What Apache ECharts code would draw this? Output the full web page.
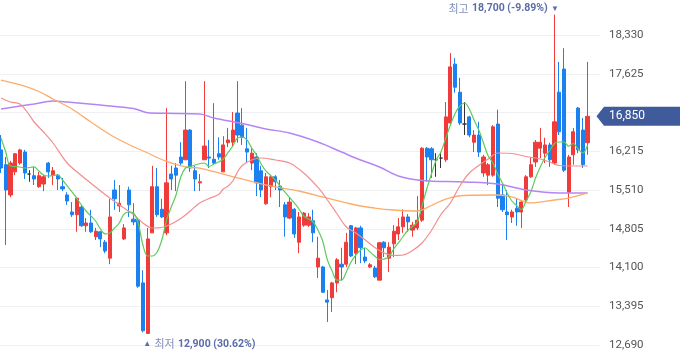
<!DOCTYPE html>
<html><head><meta charset="utf-8">
<script src="https://cdn.jsdelivr.net/npm/echarts@6/dist/echarts.min.js"></script>
<style>html,body{margin:0;padding:0;background:#fff;overflow:hidden;width:680px;height:358px;position:relative}
#c{position:absolute;left:-2px;top:-4px;width:682px;height:388px}</style>
</head><body><div id="c"></div>
<script>
// candle values (open, close, low, high), one entry per trading day
var opens  = [16240,15970,15420,15840,16000,16200,15800,15770,15570,15620,16000,15780,15780,15570,15420,15110,15060,15200,14860,14910,14660,14750,14560,14270,15510,15220,14620,15510,14980,14960,13820,12900,14730,15570,15160,14730,15800,15910,16110,16060,16600,15860,15640,16060,16110,16070,16170,15840,16370,16380,16910,16690,16260,16000,16110,15860,15260,15570,15750,15580,15240,15000,15160,14560,14870,14870,14950,14110,14110,13510,13550,13820,14160,14160,14860,14360,14820,14290,14110,14090,13870,14560,14270,14530,14710,14840,15020,14780,14820,14960,16270,16260,16060,16090,16060,16730,17800,17290,16710,16840,16380,16510,15820,15780,15780,16710,15420,15110,15020,15180,15110,15330,15750,16020,16270,16180,16330,16000,17290,17710,15470,16150,17000,16600,16370];
var closes = [15910,15510,16000,16170,16240,15820,15800,15710,15770,15750,15840,15860,15710,15530,15310,15060,15360,14860,14910,14750,14760,14620,14400,15020,15350,15270,14820,15240,14930,13760,12950,14620,15570,15060,15020,15640,15710,15780,16000,16600,15910,15710,15660,16310,16090,16000,16110,16330,16420,16600,16510,16470,16200,16180,15640,15510,15750,15750,15660,15510,15020,15290,14710,15020,15090,15020,14730,14270,13650,13470,13820,14240,14110,14560,14310,14820,14460,14220,14150,13930,14550,14460,14470,14760,14840,15020,14930,14870,14960,16270,16110,16060,16060,16090,16840,17750,17380,16730,16710,16510,16510,16200,16110,15970,16660,15360,15150,15060,15110,15110,15290,15750,15970,16380,16380,16330,16060,16750,16570,15870,16110,16570,16240,15970,16850];
var lows   = [15820,14510,15380,15780,15970,15710,15660,15600,15550,15490,15730,15600,15510,15490,15240,15020,14750,14840,14750,14730,14600,14470,14360,14160,15150,15110,14600,15020,14870,13730,12920,12900,14730,15020,15000,14690,15510,15490,15950,16060,15840,15490,15490,16060,15910,15970,16060,15840,16290,16290,16370,16330,16000,15870,15400,15380,15240,15380,15510,15200,14660,14980,14640,14360,14840,14840,14560,13910,13640,13110,13290,13650,13870,14110,14290,14160,14180,14180,14090,13910,13870,14290,14020,14290,14600,14730,14750,14660,14780,14930,15660,15730,15750,15910,16020,16690,17280,16690,16510,16470,16200,16110,15750,15600,15750,15200,15110,14600,14910,14860,14820,15290,15730,15930,16090,16000,15930,15970,16510,15840,15200,15970,16180,15910,16150];
var highs  = [16510,16110,16040,16180,16260,16240,15870,15930,15840,15780,16020,15930,15800,15730,15470,15290,15380,15240,15000,15150,14820,14760,14600,15350,15690,15600,14890,15570,15270,15000,14050,14820,15950,15910,15350,17000,15950,16000,16380,17490,16620,15950,15800,17490,16420,17090,16470,16490,16640,16930,17490,17000,16640,16270,16180,15950,15820,15780,15780,15690,15290,15380,15180,15110,15110,15090,15150,14660,14130,13690,13840,14270,14460,14730,14870,14840,14860,14460,14180,14130,14560,14580,14560,14870,15000,15160,15070,14930,15400,16290,16290,16290,16180,16200,17110,18000,17910,17550,17110,16860,16600,16750,16150,16000,16690,16970,15600,15510,15150,15360,15330,15780,16110,16420,16640,16460,16370,18700,17840,18090,16150,16640,17020,16820,17840];
// moving averages: [day index, price]
var ma5 = [[0,16456],[1,16201],[2,15947],[4,15929],[5,15910],[7,15929],[8,15856],[9,15783],[10,15765],[12,15783],[13,15692],[14,15583],[15,15474],[16,15364],[17,15237],[18,15128],[19,15037],[20,14946],[21,14801],[22,14710],[23,14728],[24,14819],[25,14910],[26,15073],[27,15110],[28,15092],[29,14910],[30,14510],[31,14309],[32,14309],[33,14382],[34,14600],[35,14964],[36,15201],[37,15419],[38,15747],[39,15910],[40,15938],[41,15965],[43,16001],[44,15938],[45,15983],[46,16019],[47,16074],[48,16192],[49,16310],[50,16456],[51,16474],[52,16420],[53,16274],[54,16147],[55,15983],[56,15856],[57,15774],[58,15692],[59,15583],[60,15474],[61,15374],[62,15274],[63,15164],[64,15037],[65,14982],[66,14928],[67,14782],[68,14582],[69,14236],[70,14036],[71,13872],[72,13872],[73,14018],[74,14200],[75,14327],[76,14418],[77,14455],[78,14382],[79,14309],[80,14245],[81,14254],[82,14291],[83,14437],[84,14546],[85,14664],[86,14773],[87,14846],[88,14928],[89,15219],[90,15528],[91,15801],[92,16056],[93,16201],[94,16447],[95,16693],[96,16902],[97,17038],[98,17093],[99,16984],[100,16784],[101,16602],[102,16365],[103,16129],[104,16001],[105,15801],[106,15637],[107,15456],[108,15310],[109,15228],[110,15155],[111,15310],[112,15474],[113,15728],[114,15929],[115,16101],[116,16229],[117,16356],[118,16383],[119,16383],[120,16310],[121,16356],[122,16256],[123,16183],[124,16329]];
var ma20 = [[0,17184],[2,17111],[4,17075],[6,16874],[7,16747],[9,16565],[11,16365],[14,16001],[17,15774],[20,15565],[23,15364],[26,15182],[28,15064],[30,14910],[32,14819],[34,14828],[36,14891],[38,14991],[40,15128],[42,15274],[44,15355],[46,15428],[47,15528],[48,15583],[49,15674],[50,15838],[51,15956],[53,16056],[55,16092],[58,16056],[61,16001],[64,15819],[67,15556],[69,15328],[71,15082],[73,14837],[75,14728],[77,14600],[79,14464],[81,14364],[83,14318],[85,14327],[87,14409],[89,14546],[91,14773],[93,15064],[95,15274],[97,15583],[99,15819],[101,15956],[103,16074],[105,16183],[108,16174],[111,16119],[114,16074],[116,16019],[118,15956],[121,15947],[124,15947]];
var ma60 = [[0,17511],[5,17402],[8,17302],[11,17166],[15,16984],[19,16747],[23,16520],[27,16338],[31,16183],[35,16029],[39,15929],[42,15910],[48,15774],[57,15583],[63,15492],[68,15383],[75,15237],[79,15182],[83,15146],[88,15128],[91,15228],[94,15346],[98,15410],[105,15419],[108,15383],[112,15274],[117,15328],[120,15364],[124,15456]];
var ma120 = [[0,16984],[4,17038],[7,17075],[11,17129],[14,17111],[21,17056],[28,16993],[31,16916],[35,16905],[42,16893],[45,16820],[51,16720],[56,16620],[61,16547],[67,16383],[72,16201],[76,16056],[80,15929],[84,15765],[89,15683],[98,15656],[105,15619],[111,15510],[118,15456],[124,15456]];
var yTicks = {min: 11985, max: 19035, step: 705};
var lastPrice = 16850;
var highMark = {idx: 117, value: 18700, text: '최고', pct: '(-9.89%)'};
var lowMark  = {idx: 31, value: 12900, text: '최저', pct: '(30.62%)'};
var padSlots = 2;

var n = opens.length;
var categories = [];
for (var i = 0; i < n + padSlots; i++) categories.push(String(i + 1));
var candles = [];
for (var j = 0; j < n; j++) candles.push([opens[j], closes[j], lows[j], highs[j]]);

var offX = -2, offY = -4; // page offset of the chart box
var chart = echarts.init(document.getElementById('c'), null, {renderer: 'canvas'});
var lineCommon = {type: 'line', symbol: 'none', smooth: 0.35, connectNulls: true, z: 3, silent: true};
chart.setOption({
  animation: false,
  backgroundColor: '#ffffff',
  grid: {left: 0.63, right: 80.6, top: 0.25, bottom: 0.25},
  xAxis: {type: 'category', data: categories, boundaryGap: true,
    axisLine: {show: false}, axisTick: {show: false}, axisLabel: {show: false}, splitLine: {show: false}},
  yAxis: {type: 'value', position: 'right', min: yTicks.min, max: yTicks.max, interval: yTicks.step,
    axisLine: {show: false}, axisTick: {show: false},
    axisLabel: {showMinLabel: false, showMaxLabel: false, margin: 9.6, color: '#555', fontSize: 11.5, fontFamily: 'Roboto',
      formatter: function (v) { return v.toLocaleString('en-US'); }},
    splitLine: {lineStyle: {color: '#eef0f4', width: 1}}},
  series: [
    {type: 'candlestick', data: candles, barWidth: '78%', z: 2,
      itemStyle: {color: '#f03b3b', color0: '#1b80f0', borderColor: '#f03b3b', borderColor0: '#1b80f0', borderColorDoji: '#333333', borderWidth: 1}},
    Object.assign({}, lineCommon, {name: 'MA120', data: ma120, lineStyle: {color: '#b685f4', width: 1.5}}),
    Object.assign({}, lineCommon, {name: 'MA60', data: ma60, lineStyle: {color: '#fcac6b', width: 1.3}}),
    Object.assign({}, lineCommon, {name: 'MA20', data: ma20, lineStyle: {color: '#f58d8d', width: 1.2}}),
    Object.assign({}, lineCommon, {name: 'MA5', data: ma5, lineStyle: {color: '#5ccb5c', width: 1.2}})
  ]
});

function px(idx, val) { return chart.convertToPixel({xAxisIndex: 0, yAxisIndex: 0}, [idx, val]); }
var pHigh = px(highMark.idx, highMark.value);
var pLow = px(lowMark.idx, lowMark.value);
var yLast = chart.convertToPixel({yAxisIndex: 0}, lastPrice);
var W = 680 - offX;
var richSt = {a: {fontSize: 11, fill: '#8290bb', fontFamily: 'Noto Sans CJK KR'},
              b: {fontSize: 10.5, fill: '#5a6da6', fontWeight: 'bold', fontFamily: 'Roboto'},
              c: {fontSize: 8, fill: '#5a6da6'}};
chart.setOption({
  graphic: [
    {type: 'text', z: 100, x: pHigh[0] + 4.5, y: pHigh[1] - 6,
      style: {text: '{a|' + highMark.text + '} {b|' + highMark.value.toLocaleString('en-US') + ' ' + highMark.pct + '} {c|▼}',
        align: 'right', verticalAlign: 'middle', rich: richSt}},
    {type: 'text', z: 100, x: pLow[0] - 4.5, y: pLow[1] + 10.5,
      style: {text: '{c|▲} {a|' + lowMark.text + '} {b|' + lowMark.value.toLocaleString('en-US') + ' ' + lowMark.pct + '}',
        align: 'left', verticalAlign: 'middle', rich: richSt}},
    {type: 'polygon', z: 100, shape: {points: [[596.5 - offX, yLast], [604 - offX, yLast - 9.5], [W, yLast - 9.5], [W, yLast + 9.5], [604 - offX, yLast + 9.5]]},
      style: {fill: '#405b9c'}},
    {type: 'text', z: 101, x: 609 - offX, y: yLast,
      style: {text: lastPrice.toLocaleString('en-US'), fill: '#ffffff', fontSize: 12, fontFamily: 'Roboto', verticalAlign: 'middle', align: 'left'}}
  ]
});
</script></body></html>
